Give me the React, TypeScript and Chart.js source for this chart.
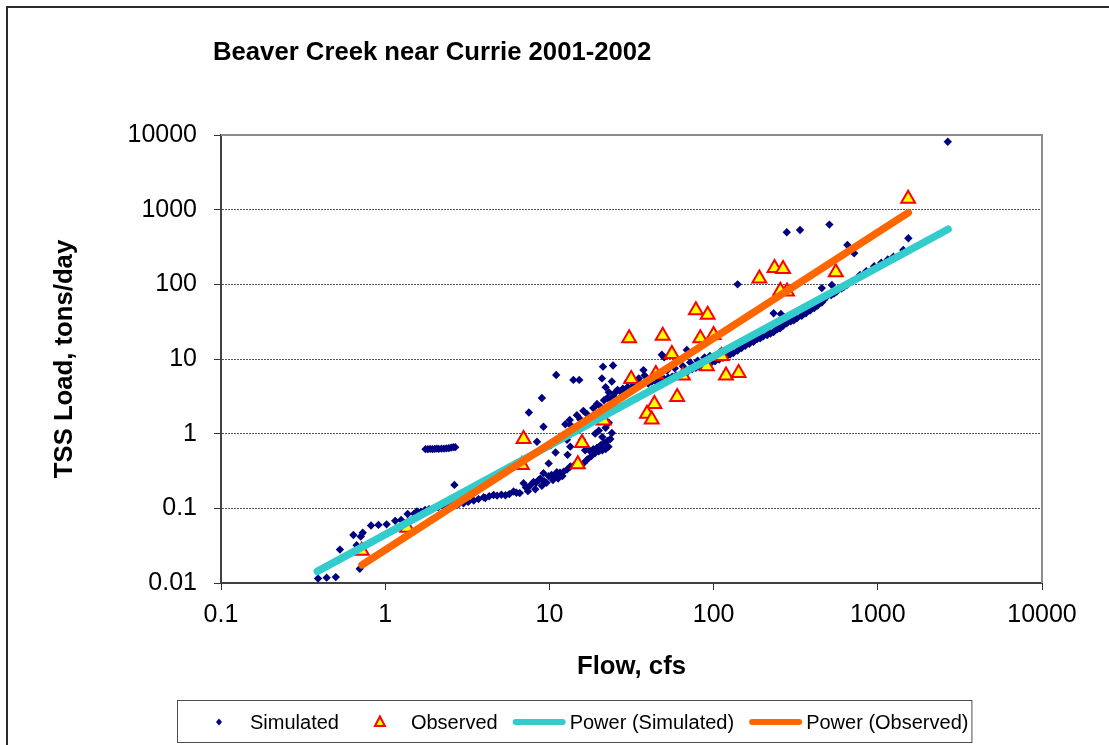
import React, { useEffect, useRef } from 'react';
import { Chart, registerables } from 'chart.js';

Chart.register(...registerables);

const chartTitle = 'Beaver Creek near Currie 2001-2002';
const xAxisTitle = 'Flow, cfs';
const yAxisTitle = 'TSS Load, tons/day';
const seriesNames = ['Simulated', 'Observed', 'Power (Simulated)', 'Power (Observed)'];

const xTicks = [0.1, 1, 10, 100, 1000, 10000];
const xTickLabels = ['0.1', '1', '10', '100', '1000', '10000'];
const yTicks = [0.01, 0.1, 1, 10, 100, 1000, 10000];
const yTickLabels = ['0.01', '0.1', '1', '10', '100', '1000', '10000'];

// [flow cfs, load tons/day]
const simulated: [number, number][] = [
  [0.39, 0.0115], [0.44, 0.0118], [0.5, 0.012], [0.53, 0.028], [0.64, 0.044], [0.67, 0.032], [0.7, 0.0155],
  [0.71, 0.042], [0.73, 0.047], [0.82, 0.059], [0.91, 0.06], [1.02, 0.061], [1.15, 0.068], [1.25, 0.07], [1.37, 0.084],
  [1.5, 0.085], [1.56, 0.091], [1.65, 0.09], [1.75, 0.095], [1.85, 0.097], [1.97, 0.1], [2.1, 0.103], [2.27, 0.106],
  [2.45, 0.11], [2.61, 0.115], [2.64, 0.206], [2.8, 0.114], [3.0, 0.117], [3.2, 0.122], [3.46, 0.127], [3.7, 0.133],
  [3.98, 0.141], [4.07, 0.137], [4.3, 0.145], [4.57, 0.151], [4.8, 0.148], [5.1, 0.152], [5.4, 0.15], [5.7, 0.155],
  [6.05, 0.168], [6.3, 0.162], [6.6, 0.16],
  [1.76, 0.62], [1.82, 0.62], [1.88, 0.625], [1.94, 0.62], [2.0, 0.625], [2.06, 0.63], [2.12, 0.625], [2.2, 0.63],
  [2.28, 0.63], [2.36, 0.635], [2.44, 0.64], [2.52, 0.65], [2.6, 0.66], [2.67, 0.66],
  [6.96, 0.217], [7.2, 0.19], [7.4, 0.17], [7.6, 0.2], [8.0, 0.225], [8.2, 0.18], [8.3, 0.22], [8.6, 0.24], [8.8, 0.25],
  [9.0, 0.2], [9.2, 0.296], [9.3, 0.23], [9.6, 0.22], [9.9, 0.27], [10.3, 0.28], [10.5, 0.24], [10.7, 0.27], [11.1, 0.305],
  [11.3, 0.25], [11.6, 0.3], [12.0, 0.27], [12.2, 0.31], [12.8, 0.33], [13.4, 0.363], [14.2, 0.38], [15.0, 0.39],
  [16.1, 0.4], [17.0, 0.45], [18.0, 0.5], [19.0, 0.55], [20.0, 0.58], [21.0, 0.6], [22.0, 0.62], [22.9, 0.67],
  [16.5, 0.6], [17.5, 0.6], [18.5, 0.62], [19.5, 0.65], [20.5, 0.7], [21.5, 0.75], [22.5, 0.8], [23.5, 0.85], [24.0, 1.02],
  [8.4, 0.78], [9.2, 1.24], [9.9, 0.4], [10.2, 0.7], [10.9, 0.56], [11.6, 0.91], [12.5, 1.34], [12.8, 0.83], [12.9, 0.52],
  [13.3, 1.53], [13.4, 0.67], [13.4, 1.31], [14.0, 1.2], [14.7, 1.77], [15.4, 1.56], [15.8, 0.83], [16.1, 2.02],
  [16.9, 1.84], [17.5, 1.6], [18.5, 2.2], [19.5, 2.5], [20.5, 2.3], [21.5, 2.8], [22.5, 3.0], [23.5, 2.9], [24.5, 3.2],
  [19.0, 1.0], [20.0, 1.1], [21.0, 0.9], [22.0, 1.2], [23.0, 1.4],
  [7.5, 1.92], [9.0, 3.0], [11.0, 6.1], [14.0, 5.25], [15.2, 5.25], [20.9, 5.5], [24.0, 5.0], [21.2, 7.9], [24.4, 8.2],
  [22.0, 4.2], [23.0, 3.6],
  [25, 3.5], [26, 3.86], [27, 3.7], [28, 4.0], [29, 3.9], [30, 4.2], [32, 4.3], [34, 4.5], [36, 4.6], [38, 4.8],
  [40, 4.7], [42, 5.0], [44, 5.1], [47, 5.0], [50, 5.4], [53, 5.6], [56, 5.8], [59, 6.0], [62.7, 6.1], [66, 6.5],
  [70, 6.9], [74, 7.3], [78, 7.6], [82, 7.9], [86, 8.1], [91, 8.3], [96, 8.8], [102, 9.3], [108, 9.8], [114, 10.4],
  [120, 11], [126, 11.5], [132, 12], [140, 13], [148, 14], [156, 15], [165, 16], [175, 17], [184, 18.5], [192, 19],
  [200, 20], [212, 21], [222, 22], [232, 23], [244, 25], [254, 25.8], [266, 28], [279, 30], [295, 32], [308, 33],
  [321, 35], [344, 37.8], [365, 41], [387, 44.5], [410, 48], [430, 52], [456, 57], [489, 68], [520, 72], [562, 80],
  [600, 88], [647, 98], [700, 110], [780, 134], [850, 150], [950, 175], [1050, 195], [1150, 215], [1245, 235], [1430, 288],
  [30, 5.0], [35, 5.5], [38, 6.0], [45, 6.5], [52, 7.0], [58, 7.5], [65, 8.0], [72, 9.0], [80, 9.5], [88, 10.5],
  [95, 11], [110, 12.5], [125, 14], [145, 16.5], [170, 19], [190, 21], [215, 24], [240, 27], [270, 32], [300, 36],
  [340, 42], [380, 48], [420, 55], [470, 62], [540, 75], [620, 92],
  [48.4, 11.4], [50, 10.5], [68.7, 13.2], [100, 22.5], [37.4, 7.1], [140, 100], [232, 41], [257, 40], [456, 89],
  [525, 98], [279, 498], [336, 535], [507, 631], [653, 336], [718, 261], [1535, 414], [2668, 8130],
];

const observed: [number, number][] = [
  [0.72, 0.027], [1.36, 0.055], [6.96, 0.85], [6.8, 0.38], [15.8, 0.75], [14.9, 0.39], [21.4, 1.5], [30.6, 19],
  [31.5, 5.4], [49, 20.5], [44.5, 6.3], [55.7, 11.7], [43.6, 2.5], [39.3, 1.85], [42, 1.55], [60, 3.1], [78, 45],
  [92, 39], [83, 19], [100, 21], [65, 6], [91, 8], [112, 11], [119, 6], [142, 6.5], [190, 120], [235, 165], [265, 160],
  [255, 82], [280, 80], [555, 145], [1530, 1400],
];

// power trend lines, end points
const powerSimulated: [number, number][] = [[0.386, 0.0143], [2680, 547]];
const powerObserved: [number, number][] = [[0.723, 0.0175], [1535, 912]];

const FONT = '"Liberation Sans", Arial, Helvetica, sans-serif';

const toPts = (arr: [number, number][]) => arr.map(([x, y]) => ({ x, y }));

const extrasPlugin = {
  id: 'extras',
  beforeDatasetsDraw(chart: any) {
    const { ctx, chartArea: a } = chart;
    ctx.save();
    ctx.strokeStyle = '#8c8c8c';
    ctx.lineWidth = 2;
    ctx.beginPath();
    ctx.moveTo(a.left, a.top);
    ctx.lineTo(a.right, a.top);
    ctx.lineTo(a.right, a.bottom);
    ctx.stroke();
    ctx.restore();
  },
  afterDraw(chart: any) {
    const ctx: CanvasRenderingContext2D = chart.ctx;
    const ds = chart.data.datasets;
    ctx.save();
    // outer frame
    ctx.strokeStyle = '#2b2b2b';
    ctx.lineWidth = 2;
    ctx.strokeRect(7, 7, 1400, 1400);
    // title
    ctx.fillStyle = '#000';
    ctx.font = `bold 25.7px ${FONT}`;
    ctx.textAlign = 'left';
    ctx.textBaseline = 'alphabetic';
    ctx.fillText(chartTitle, 213, 60);

    // legend
    ctx.font = `20px ${FONT}`;
    const cy = 722;
    const baseY = 729;
    const boxLeft = 177;
    let x = 219;
    // Simulated marker (diamond)
    ctx.fillStyle = ds[0].backgroundColor;
    ctx.beginPath();
    ctx.moveTo(x, cy - 3.5);
    ctx.lineTo(x + 3, cy);
    ctx.lineTo(x, cy + 3.5);
    ctx.lineTo(x - 3, cy);
    ctx.closePath();
    ctx.fill();
    x = 250;
    ctx.fillStyle = '#000';
    ctx.fillText(ds[0].label, x, baseY);
    x += ctx.measureText(ds[0].label).width + 41;
    // Observed marker (triangle)
    ctx.beginPath();
    ctx.moveTo(x, cy - 5.5);
    ctx.lineTo(x + 5, cy + 4);
    ctx.lineTo(x - 5, cy + 4);
    ctx.closePath();
    ctx.fillStyle = ds[1].backgroundColor;
    ctx.fill();
    ctx.strokeStyle = ds[1].borderColor;
    ctx.lineWidth = 2;
    ctx.stroke();
    x += 31;
    ctx.fillStyle = '#000';
    ctx.fillText(ds[1].label, x, baseY);
    x += ctx.measureText(ds[1].label).width + 15;
    for (const i of [2, 3]) {
      ctx.strokeStyle = ds[i].borderColor;
      ctx.lineWidth = 6;
      ctx.lineCap = 'round';
      ctx.beginPath();
      ctx.moveTo(x + 3, cy);
      ctx.lineTo(x + 50, cy);
      ctx.stroke();
      x += 57;
      ctx.fillStyle = '#000';
      ctx.fillText(ds[i].label, x, baseY);
      x += ctx.measureText(ds[i].label).width + 15;
    }
    const boxRight = x - 15 + 3;
    ctx.strokeStyle = '#4d4d4d';
    ctx.lineWidth = 1;
    ctx.strokeRect(boxLeft + 0.5, 700.5, boxRight - boxLeft, 42);
    ctx.restore();
  },
};

export default function App() {
  const ref = useRef<HTMLCanvasElement | null>(null);

  useEffect(() => {
    document.body.style.margin = '0';
    const canvas = ref.current;
    if (!canvas) return;
    const chart = new Chart(canvas, {
      type: 'scatter',
      data: {
        datasets: [
          {
            label: seriesNames[0],
            data: toPts(simulated),
            pointStyle: 'rectRot',
            pointRadius: 4.2,
            borderWidth: 0,
            backgroundColor: '#000080',
            borderColor: '#000080',
            order: 4,
          },
          {
            label: seriesNames[1],
            data: toPts(observed),
            pointStyle: 'triangle',
            pointRadius: 8,
            borderWidth: 2,
            backgroundColor: '#FFFF00',
            borderColor: '#FF0000',
            order: 3,
          },
          {
            label: seriesNames[2],
            data: toPts(powerSimulated),
            showLine: true,
            pointRadius: 0,
            borderWidth: 7.5,
            borderCapStyle: 'round',
            borderColor: '#33CCCC',
            backgroundColor: '#33CCCC',
            order: 2,
          },
          {
            label: seriesNames[3],
            data: toPts(powerObserved),
            showLine: true,
            pointRadius: 0,
            borderWidth: 7.5,
            borderCapStyle: 'round',
            borderColor: '#FF6600',
            backgroundColor: '#FF6600',
            order: 1,
          },
        ] as any,
      },
      options: {
        responsive: false,
        animation: false,
        events: [],
        layout: { padding: { left: 0, top: 135, right: 67, bottom: 0 } },
        plugins: {
          legend: { display: false },
          title: { display: false },
          tooltip: { enabled: false },
        },
        scales: {
          x: {
            type: 'logarithmic',
            min: 0.1,
            max: 10000,
            afterBuildTicks: (s: any) => {
              s.ticks = xTicks.map((v) => ({ value: v }));
            },
            afterFit: (s: any) => {
              s.height = 162;
            },
            ticks: {
              autoSkip: false,
              maxRotation: 0,
              padding: 10,
              color: '#000',
              font: { family: FONT, size: 25 },
              callback: (v: any) => {
                const i = xTicks.indexOf(Number(v));
                return i >= 0 ? xTickLabels[i] : '';
              },
            },
            grid: {
              display: true,
              drawOnChartArea: false,
              drawTicks: true,
              tickLength: 7,
              tickColor: '#333',
              tickWidth: 1,
            },
            border: { display: true, color: '#404040', width: 2 },
            title: {
              display: true,
              text: xAxisTitle,
              color: '#000',
              font: { family: FONT, size: 25.7, weight: 'bold' },
              padding: { top: 0, bottom: 63 },
            },
          },
          y: {
            type: 'logarithmic',
            min: 0.01,
            max: 10000,
            afterBuildTicks: (s: any) => {
              s.ticks = yTicks.map((v) => ({ value: v }));
            },
            afterFit: (s: any) => {
              s.width = 221;
            },
            ticks: {
              autoSkip: false,
              padding: 17,
              color: '#000',
              font: { family: FONT, size: 25 },
              callback: (v: any) => {
                const i = yTicks.indexOf(Number(v));
                return i >= 0 ? yTickLabels[i] : '';
              },
            },
            grid: {
              display: true,
              drawOnChartArea: true,
              drawTicks: true,
              tickLength: 7,
              tickColor: '#333',
              tickWidth: 1,
              color: '#555',
              lineWidth: 1,
            },
            border: { display: true, color: '#404040', width: 2, dash: [2, 1] },
            title: {
              display: true,
              text: yAxisTitle,
              color: '#000',
              font: { family: FONT, size: 25.7, weight: 'bold' },
              padding: { top: 49, bottom: 0 },
            },
          },
        },
      },
      plugins: [extrasPlugin],
    });
    return () => chart.destroy();
  }, []);

  return (
    <div style={{ width: 1109, height: 745, position: 'relative' }}>
      <canvas ref={ref} width={1109} height={745} style={{ display: 'block' }} />
    </div>
  );
}
